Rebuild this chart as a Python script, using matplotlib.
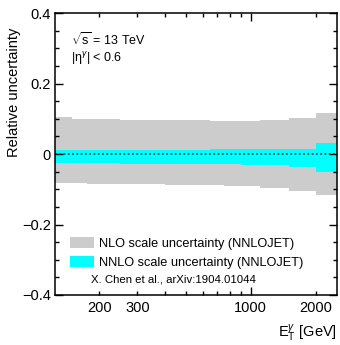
import matplotlib
matplotlib.use("Agg")
import matplotlib.pyplot as plt
from matplotlib.patches import Patch
from matplotlib.ticker import FixedLocator, FuncFormatter, MultipleLocator
import numpy as np

plt.rcParams['font.family'] = ['Liberation Sans', 'DejaVu Sans']
plt.rcParams['mathtext.fontset'] = 'custom'
plt.rcParams['mathtext.rm'] = 'Liberation Sans'
plt.rcParams['mathtext.it'] = 'Liberation Sans:italic'
plt.rcParams['mathtext.sf'] = 'Liberation Sans'
plt.rcParams['axes.unicode_minus'] = True

# E_T^gamma bin edges [GeV]
bin_edges = [125, 150, 175, 200, 225, 250, 300, 350, 400, 470, 550,
             650, 750, 900, 1100, 1500, 2000, 2500]

# NLO scale uncertainty envelope (relative)
nlo_up = [0.105, 0.100, 0.100, 0.099, 0.099, 0.098, 0.098, 0.097, 0.097,
          0.096, 0.096, 0.095, 0.094, 0.093, 0.097, 0.101, 0.117]
nlo_down = [-0.083, -0.083, -0.084, -0.084, -0.085, -0.085, -0.086, -0.086,
            -0.087, -0.087, -0.088, -0.089, -0.090, -0.091, -0.096, -0.105,
            -0.117]

# NNLO scale uncertainty envelope (relative)
nnlo_up = [0.011, 0.011, 0.011, 0.012, 0.012, 0.012, 0.012, 0.012, 0.012,
           0.012, 0.012, 0.013, 0.013, 0.013, 0.013, 0.015, 0.032]
nnlo_down = [-0.026, -0.026, -0.026, -0.026, -0.026, -0.027, -0.027, -0.027,
             -0.027, -0.027, -0.028, -0.028, -0.029, -0.031, -0.031, -0.037,
             -0.050]

x_major = [1000]
x_minor = [200, 300, 400, 500, 600, 700, 800, 900, 2000]
x_minor_labels = {200: "200", 300: "300", 2000: "2000"}
y_ticks = [-0.4, -0.2, 0.0, 0.2, 0.4]
y_tick_labels = ["\u22120.4", "\u22120.2", "0", "0.2", "0.4"]

gray = "#cccccc"
cyan = "#00ffff"

fig = plt.figure(figsize=(3.40, 3.45), dpi=100)
ax = fig.add_axes([0.162, 0.145, 0.829, 0.817])

edges = np.array(bin_edges, dtype=float)

def step_band(lo, hi, color):
    xs = np.repeat(edges, 2)[1:-1]
    ylo = np.repeat(lo, 2)
    yhi = np.repeat(hi, 2)
    ax.fill_between(xs, ylo, yhi, color=color, linewidth=0)

step_band(nlo_down, nlo_up, gray)
step_band(nnlo_down, nnlo_up, cyan)
ax.axhline(0.0, color="#1a3a3a", linestyle=(0, (1.2, 1.6)), linewidth=1.1)

ax.set_xscale("log")
ax.set_xlim(edges[0], edges[-1])
ax.set_ylim(-0.4, 0.4)

ax.xaxis.set_major_locator(FixedLocator(x_major))
ax.xaxis.set_major_formatter(FuncFormatter(lambda v, p: f"{v:.0f}"))
ax.xaxis.set_minor_locator(FixedLocator(x_minor))
ax.xaxis.set_minor_formatter(
    FuncFormatter(lambda v, p: x_minor_labels.get(int(round(v)), "")))
ax.yaxis.set_major_locator(FixedLocator(y_ticks))
ax.set_yticklabels(y_tick_labels)
ax.yaxis.set_minor_locator(MultipleLocator(0.05))

ax.tick_params(which="both", direction="in", top=True, right=True,
               labelsize=10.5, width=1.0, colors="black")
ax.tick_params(which="major", length=6)
ax.tick_params(which="minor", length=3)
ax.tick_params(axis="x", which="both", pad=4)
ax.tick_params(axis="y", which="both", pad=3)
for s in ax.spines.values():
    s.set_linewidth(1.1)

ax.set_ylabel("Relative uncertainty", fontsize=10.5, loc="top")
ax.yaxis.set_label_coords(-0.12, 0.947)
ax.set_xlabel(r"$\mathrm{E}_{\mathrm{T}}^{\gamma}$ [GeV]", fontsize=10.5,
              loc="right")
ax.xaxis.set_label_coords(1.0, -0.1)

ax.text(0.055, 0.905, r"$\sqrt{\mathrm{s}}$ = 13 TeV", transform=ax.transAxes,
        fontsize=9, ha="left", va="center")
ax.text(0.055, 0.838, "|\u03b7$^{\\gamma}$| < 0.6", transform=ax.transAxes,
        fontsize=9, ha="left", va="center")

handles = [Patch(facecolor=gray, edgecolor="none"),
           Patch(facecolor=cyan, edgecolor="none")]
ax.legend(handles, ["NLO scale uncertainty (NNLOJET)",
                    "NNLO scale uncertainty (NNLOJET)"],
          loc="lower left", bbox_to_anchor=(0.03, 0.07), frameon=False,
          fontsize=9.2, handlelength=1.9, handleheight=0.9,
          handletextpad=0.35, labelspacing=0.5, borderpad=0.0)
ax.text(0.128, 0.055, "X. Chen et al., arXiv:1904.01044",
        transform=ax.transAxes, fontsize=8.2, ha="left", va="center")

fig.savefig("out.png", dpi=100)
